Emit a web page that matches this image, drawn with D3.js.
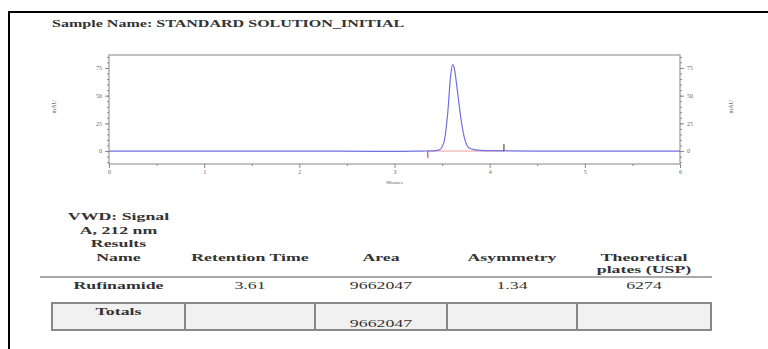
<!DOCTYPE html>
<html>
<head>
<meta charset="utf-8">
<script src="https://cdnjs.cloudflare.com/ajax/libs/d3/7.8.5/d3.min.js"></script>
<style>
  body { margin: 0; background: #fff; }
  text { font-family: "Liberation Serif", "Times New Roman", serif; }
</style>
</head>
<body>
<div class="canvas"></div>
<script>
// chromatogram trace (minutes, mAU)
const times  = [0, 1.0, 2.0, 2.8, 3.0, 3.3, 3.40, 3.47, 3.52, 3.56, 3.59, 3.61, 3.63, 3.66, 3.70, 3.74, 3.78, 3.85, 3.95, 4.5, 5.0, 6.0];
const signal = [0, 0,   0,   -0.3, -0.3, 0, 0.1, 1,    8,    35,   68,   78,   74,   55,   28,   10,   3,    1,    0.3,  0,   0,   0];

// integration event marks
const eventTimes = [3.35, 4.15];
const eventDirs  = [-1, 1];
const eventCols  = ['#c33', '#333'];

const xTicks = [0, 1, 2, 3, 4, 5, 6];
const yTicks = [0, 25, 50, 75];

// results table
const sampleName = 'Sample Name: STANDARD SOLUTION_INITIAL';
const columns   = ['Name', 'Retention Time', 'Area', 'Asymmetry', 'Theoretical plates (USP)'];
const peakRow   = ['Rufinamide', '3.61', '9662047', '1.34', '6274'];
const totalsRow = ['Totals', '', '9662047', '', ''];

const W = 768, H = 349;
const svg = d3.select('.canvas').append('svg')
    .attr('width', W)
    .attr('height', H);

// page frame (top + left edges show)
svg.append('rect')
    .attr('x', 9).attr('y', 12)
    .attr('width', 780).attr('height', 360)
    .attr('fill', 'none')
    .attr('stroke', '#000')
    .attr('stroke-width', 2);

// text helper: report print looks horizontally stretched
function label(g, x, y, str, o = {}) {
  return g.append('text')
      .attr('transform', `translate(${x},${y}) scale(${o.sx || 1.62},1)`)
      .attr('text-anchor', o.anchor || 'middle')
      .attr('font-size', o.size || 11)
      .attr('font-weight', o.bold ? 'bold' : 'normal')
      .attr('fill', o.fill || '#333')
      .text(str);
}

label(svg, 52, 27, sampleName, {anchor: 'start', size: 11, bold: true, sx: 1.46});

// ---- chromatogram ----
const x = d3.scaleLinear().domain([0, 6]).range([109, 680]);
const y = d3.scaleLinear().domain([-11.7, 86.7]).range([164, 55]);

const plot = svg.append('g');

plot.append('rect')
    .attr('x', x(0)).attr('y', y.range()[1])
    .attr('width', x(6) - x(0)).attr('height', y.range()[0] - y.range()[1])
    .attr('fill', 'none')
    .attr('stroke', '#999')
    .attr('stroke-width', 1.2);

const axisStyle = g => {
  g.select('.domain').remove();
  g.selectAll('line').attr('stroke', '#888');
  g.selectAll('text').attr('fill', '#666').attr('font-size', 6)
    .attr('font-family', 'Liberation Sans, Arial, sans-serif');
};

// minor ticks
plot.append('g')
    .attr('transform', `translate(0,${y.range()[0]})`)
    .call(d3.axisBottom(x).tickValues(d3.range(0.5, 6, 1)).tickSize(2).tickFormat(''))
    .call(axisStyle);
plot.append('g')
    .attr('transform', `translate(${x(0)},0)`)
    .call(d3.axisLeft(y).tickValues(d3.range(-10, 86, 5)).tickSize(2).tickFormat(''))
    .call(axisStyle);
plot.append('g')
    .attr('transform', `translate(${x(6)},0)`)
    .call(d3.axisRight(y).tickValues(d3.range(-10, 86, 5)).tickSize(2).tickFormat(''))
    .call(axisStyle);

// major ticks
plot.append('g')
    .attr('transform', `translate(0,${y.range()[0]})`)
    .call(d3.axisBottom(x).tickValues(xTicks).tickSize(4).tickPadding(2).tickFormat(d3.format('d')))
    .call(axisStyle);
plot.append('g')
    .attr('transform', `translate(${x(0)},0)`)
    .call(d3.axisLeft(y).tickValues(yTicks).tickSize(4).tickPadding(3))
    .call(axisStyle);
plot.append('g')
    .attr('transform', `translate(${x(6)},0)`)
    .call(d3.axisRight(y).tickValues(yTicks).tickSize(4).tickPadding(3))
    .call(axisStyle);

// axis titles
plot.append('text')
    .attr('transform', `translate(56,${y(40)}) rotate(-90)`)
    .attr('text-anchor', 'middle')
    .attr('font-size', 6).attr('fill', '#666')
    .attr('font-family', 'Liberation Sans, Arial, sans-serif')
    .text('mAU');
plot.append('text')
    .attr('transform', `translate(733,${y(40)}) rotate(-90)`)
    .attr('text-anchor', 'middle')
    .attr('font-size', 6).attr('fill', '#666')
    .attr('font-family', 'Liberation Sans, Arial, sans-serif')
    .text('mAU');
plot.append('text')
    .attr('x', x(3)).attr('y', 184)
    .attr('text-anchor', 'middle')
    .attr('font-size', 5).attr('fill', '#666')
    .attr('font-family', 'Liberation Sans, Arial, sans-serif')
    .text('Minutes');

// integration baseline
plot.append('line')
    .attr('x1', x(3.35)).attr('x2', x(4.15))
    .attr('y1', y(0)).attr('y2', y(0))
    .attr('stroke', '#e9a0a0')
    .attr('stroke-width', 1);

// trace
const trace = times.map((t, i) => [t, signal[i]]);
plot.append('path')
    .datum(trace)
    .attr('fill', 'none')
    .attr('stroke', '#7070e0')
    .attr('stroke-width', 1.2)
    .attr('d', d3.line().x(d => x(d[0])).y(d => y(d[1])).curve(d3.curveMonotoneX));

// event marks
plot.selectAll('.event')
  .data(eventTimes)
  .join('line')
    .attr('class', 'event')
    .attr('x1', d => x(d)).attr('x2', d => x(d))
    .attr('y1', y(0))
    .attr('y2', (d, i) => y(0) - eventDirs[i] * 7)
    .attr('stroke', (d, i) => eventCols[i])
    .attr('stroke-width', 1);

// ---- results table ----
const colEdges = [52, 185, 315, 447, 577, 711];
const colMid = d3.range(5).map(i => (colEdges[i] + colEdges[i + 1]) / 2);
const tbl = svg.append('g');

['VWD: Signal', 'A, 212 nm', 'Results'].forEach((s, i) => {
  label(tbl, colMid[0], 220 + i * 13.5, s, {bold: true});
});

columns.forEach((c, i) => {
  if (i === 4) {
    label(tbl, colMid[i], 261, 'Theoretical', {bold: true});
    label(tbl, colMid[i], 273, 'plates (USP)', {bold: true});
  } else {
    label(tbl, colMid[i], 261, c, {bold: true});
  }
});

tbl.append('line')
    .attr('x1', 40).attr('x2', 712)
    .attr('y1', 277).attr('y2', 277)
    .attr('stroke', '#555')
    .attr('stroke-width', 1.2);

peakRow.forEach((v, i) => {
  label(tbl, colMid[i], 289, v, {bold: i === 0});
});

// totals row
tbl.selectAll('.cell')
  .data(totalsRow)
  .join('rect')
    .attr('class', 'cell')
    .attr('x', (d, i) => colEdges[i])
    .attr('y', 303)
    .attr('width', (d, i) => colEdges[i + 1] - colEdges[i])
    .attr('height', 27)
    .attr('fill', '#f1f1f1')
    .attr('stroke', '#888')
    .attr('stroke-width', 2);

totalsRow.forEach((v, i) => {
  if (!v) return;
  label(tbl, colMid[i], i === 0 ? 315 : 327, v, {bold: i === 0});
});
</script>
</body>
</html>
